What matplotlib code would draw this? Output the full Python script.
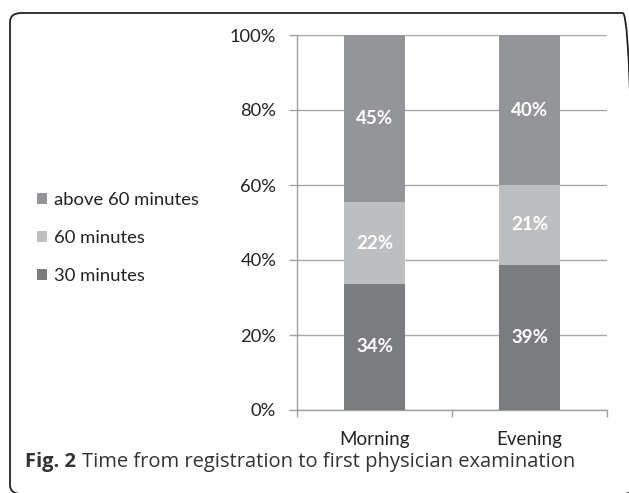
import matplotlib.pyplot as plt
from matplotlib.patches import FancyBboxPatch
from matplotlib.ticker import FixedLocator

# Data (percent of patients)
shifts = ['Morning', 'Evening']
series_names = ['30 minutes', '60 minutes', 'above 60 minutes']
min30 = [33.6, 38.8]
min60 = [21.8, 21.2]
above60 = [44.6, 40.0]
colors = ['#7b7c7f', '#bdbec0', '#949598']

W, H = 629, 493
fig = plt.figure(figsize=(W / 100, H / 100), dpi=100)

# rounded frame around the figure (cut off at right and bottom)
frame = FancyBboxPatch((10 / W, -1 / H), 624 / W, (H - 12) / H,
                       boxstyle='round,pad=0,rounding_size=0.018',
                       transform=fig.transFigure, fill=False,
                       edgecolor='#222222', linewidth=1.3, zorder=0)
fig.patches.append(frame)

ax = fig.add_axes([297 / W, (H - 410) / H, 310 / W, 375 / H])

x = range(len(shifts))
bottom = [0, 0]
for vals, name, col in zip([min30, min60, above60], series_names, colors):
    bars = ax.bar(x, vals, width=0.39, bottom=bottom, color=col,
                  label=name, zorder=3)
    for xi, v, b in zip(x, vals, bottom):
        ax.text(xi, b + v / 2, f'{v:.0f}%', ha='center', va='center',
                color='white', fontsize=13.5, fontweight='bold',
                family='Lato', zorder=4)
    bottom = [b + v for b, v in zip(bottom, vals)]

ax.set_xlim(-0.5, 1.5)
ax.set_ylim(0, 100)
ax.set_yticks([0, 20, 40, 60, 80, 100])
ax.set_yticklabels([f'{t}%' for t in range(0, 101, 20)])
ax.set_xticks(list(x))
ax.set_xticklabels(shifts)
ax.xaxis.set_minor_locator(FixedLocator([-0.5, 0.5, 1.5]))
ax.tick_params(axis='x', which='major', length=0, pad=15, labelsize=13.5,
               labelcolor='#222222')
ax.tick_params(axis='x', which='minor', length=5, color='#a0a0a0', width=1)
ax.tick_params(axis='y', length=6, color='#a0a0a0', width=1, pad=9,
               labelsize=13.2, labelcolor='#222222')
for lab in ax.get_xticklabels() + ax.get_yticklabels():
    lab.set_family('Lato')

ax.grid(axis='y', color='#a8a8a8', linewidth=1, zorder=0)
for s in ['top', 'right']:
    ax.spines[s].set_visible(False)
for s in ['left', 'bottom']:
    ax.spines[s].set_color('#a0a0a0')
    ax.spines[s].set_linewidth(1)

handles, labels = ax.get_legend_handles_labels()
leg = fig.legend(handles[::-1], labels[::-1], loc='center left',
                 bbox_to_anchor=(20 / W, (H - 238) / H), frameon=False,
                 handlelength=0.55, handleheight=0.55, handletextpad=0.4,
                 labelspacing=1.2, prop={'family': 'Lato', 'size': 13.3})
for t in leg.get_texts():
    t.set_color('#222222')

# caption
cap_y = (H - 462) / H
t1 = fig.text(25 / W, cap_y, 'Fig. 2', fontsize=14.5, fontweight='bold',
              family='Open Sans', va='center', color='#333333')
fig.canvas.draw()
bb = t1.get_window_extent()
fig.text((bb.x1 + 6) / W, cap_y,
         'Time from registration to first physician examination',
         fontsize=14.5, family='Open Sans', va='center', color='#333333')

fig.savefig('out.png', dpi=100)
